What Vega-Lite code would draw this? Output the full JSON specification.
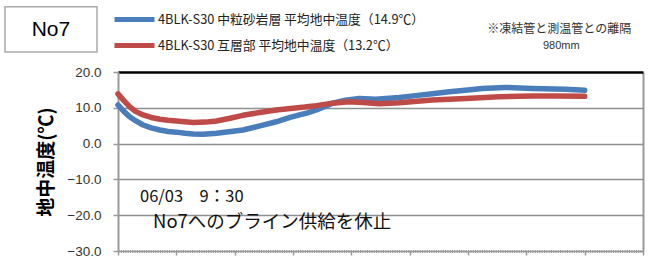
{
  "$schema": "https://vega.github.io/schema/vega-lite/v6.json",
  "autosize": "none",
  "width": 525,
  "height": 179,
  "padding": {"left": 118, "top": 72, "right": 5, "bottom": 9},
  "background": "white",
  "resolve": {"axis": {"x": "independent", "y": "independent"}},
  "config": {
    "view": {"stroke": null},
    "font": "Liberation Sans"
  },
  "layer": [
    {
      "data": {
        "values": [
          {"t": 0.0, "v": 10.8, "s": "4BLK-S30 中粒砂岩層 平均地中温度（14.9℃）"},
          {"t": 0.1, "v": 9.0, "s": "4BLK-S30 中粒砂岩層 平均地中温度（14.9℃）"},
          {"t": 0.2, "v": 7.5, "s": "4BLK-S30 中粒砂岩層 平均地中温度（14.9℃）"},
          {"t": 0.3, "v": 6.4, "s": "4BLK-S30 中粒砂岩層 平均地中温度（14.9℃）"},
          {"t": 0.43, "v": 5.2, "s": "4BLK-S30 中粒砂岩層 平均地中温度（14.9℃）"},
          {"t": 0.57, "v": 4.4, "s": "4BLK-S30 中粒砂岩層 平均地中温度（14.9℃）"},
          {"t": 0.72, "v": 3.8, "s": "4BLK-S30 中粒砂岩層 平均地中温度（14.9℃）"},
          {"t": 0.86, "v": 3.4, "s": "4BLK-S30 中粒砂岩層 平均地中温度（14.9℃）"},
          {"t": 1.0, "v": 3.2, "s": "4BLK-S30 中粒砂岩層 平均地中温度（14.9℃）"},
          {"t": 1.15, "v": 2.9, "s": "4BLK-S30 中粒砂岩層 平均地中温度（14.9℃）"},
          {"t": 1.29, "v": 2.7, "s": "4BLK-S30 中粒砂岩層 平均地中温度（14.9℃）"},
          {"t": 1.46, "v": 2.6, "s": "4BLK-S30 中粒砂岩層 平均地中温度（14.9℃）"},
          {"t": 1.69, "v": 2.9, "s": "4BLK-S30 中粒砂岩層 平均地中温度（14.9℃）"},
          {"t": 1.9, "v": 3.3, "s": "4BLK-S30 中粒砂岩層 平均地中温度（14.9℃）"},
          {"t": 2.14, "v": 3.8, "s": "4BLK-S30 中粒砂岩層 平均地中温度（14.9℃）"},
          {"t": 2.4, "v": 4.8, "s": "4BLK-S30 中粒砂岩層 平均地中温度（14.9℃）"},
          {"t": 2.71, "v": 6.1, "s": "4BLK-S30 中粒砂岩層 平均地中温度（14.9℃）"},
          {"t": 2.95, "v": 7.3, "s": "4BLK-S30 中粒砂岩層 平均地中温度（14.9℃）"},
          {"t": 3.11, "v": 8.0, "s": "4BLK-S30 中粒砂岩層 平均地中温度（14.9℃）"},
          {"t": 3.25, "v": 8.6, "s": "4BLK-S30 中粒砂岩層 平均地中温度（14.9℃）"},
          {"t": 3.4, "v": 9.4, "s": "4BLK-S30 中粒砂岩層 平均地中温度（14.9℃）"},
          {"t": 3.55, "v": 10.4, "s": "4BLK-S30 中粒砂岩層 平均地中温度（14.9℃）"},
          {"t": 3.68, "v": 11.3, "s": "4BLK-S30 中粒砂岩層 平均地中温度（14.9℃）"},
          {"t": 3.9, "v": 12.1, "s": "4BLK-S30 中粒砂岩層 平均地中温度（14.9℃）"},
          {"t": 4.14, "v": 12.6, "s": "4BLK-S30 中粒砂岩層 平均地中温度（14.9℃）"},
          {"t": 4.42, "v": 12.4, "s": "4BLK-S30 中粒砂岩層 平均地中温度（14.9℃）"},
          {"t": 4.82, "v": 12.9, "s": "4BLK-S30 中粒砂岩層 平均地中温度（14.9℃）"},
          {"t": 5.1, "v": 13.4, "s": "4BLK-S30 中粒砂岩層 平均地中温度（14.9℃）"},
          {"t": 5.39, "v": 13.9, "s": "4BLK-S30 中粒砂岩層 平均地中温度（14.9℃）"},
          {"t": 5.68, "v": 14.5, "s": "4BLK-S30 中粒砂岩層 平均地中温度（14.9℃）"},
          {"t": 6.0, "v": 15.0, "s": "4BLK-S30 中粒砂岩層 平均地中温度（14.9℃）"},
          {"t": 6.24, "v": 15.4, "s": "4BLK-S30 中粒砂岩層 平均地中温度（14.9℃）"},
          {"t": 6.64, "v": 15.7, "s": "4BLK-S30 中粒砂岩層 平均地中温度（14.9℃）"},
          {"t": 7.1, "v": 15.4, "s": "4BLK-S30 中粒砂岩層 平均地中温度（14.9℃）"},
          {"t": 7.67, "v": 15.2, "s": "4BLK-S30 中粒砂岩層 平均地中温度（14.9℃）"},
          {"t": 8.0, "v": 14.9, "s": "4BLK-S30 中粒砂岩層 平均地中温度（14.9℃）"},
          {"t": 0.0, "v": 13.9, "s": "4BLK-S30 互層部 平均地中温度（13.2℃）"},
          {"t": 0.1, "v": 12.0, "s": "4BLK-S30 互層部 平均地中温度（13.2℃）"},
          {"t": 0.2, "v": 10.3, "s": "4BLK-S30 互層部 平均地中温度（13.2℃）"},
          {"t": 0.3, "v": 9.0, "s": "4BLK-S30 互層部 平均地中温度（13.2℃）"},
          {"t": 0.43, "v": 8.0, "s": "4BLK-S30 互層部 平均地中温度（13.2℃）"},
          {"t": 0.57, "v": 7.3, "s": "4BLK-S30 互層部 平均地中温度（13.2℃）"},
          {"t": 0.72, "v": 6.8, "s": "4BLK-S30 互層部 平均地中温度（13.2℃）"},
          {"t": 0.86, "v": 6.5, "s": "4BLK-S30 互層部 平均地中温度（13.2℃）"},
          {"t": 1.0, "v": 6.3, "s": "4BLK-S30 互層部 平均地中温度（13.2℃）"},
          {"t": 1.29, "v": 5.9, "s": "4BLK-S30 互層部 平均地中温度（13.2℃）"},
          {"t": 1.5, "v": 6.0, "s": "4BLK-S30 互層部 平均地中温度（13.2℃）"},
          {"t": 1.69, "v": 6.3, "s": "4BLK-S30 互層部 平均地中温度（13.2℃）"},
          {"t": 1.9, "v": 7.0, "s": "4BLK-S30 互層部 平均地中温度（13.2℃）"},
          {"t": 2.14, "v": 7.9, "s": "4BLK-S30 互層部 平均地中温度（13.2℃）"},
          {"t": 2.4, "v": 8.6, "s": "4BLK-S30 互層部 平均地中温度（13.2℃）"},
          {"t": 2.71, "v": 9.4, "s": "4BLK-S30 互層部 平均地中温度（13.2℃）"},
          {"t": 3.0, "v": 9.9, "s": "4BLK-S30 互層部 平均地中温度（13.2℃）"},
          {"t": 3.2, "v": 10.2, "s": "4BLK-S30 互層部 平均地中温度（13.2℃）"},
          {"t": 3.4, "v": 10.6, "s": "4BLK-S30 互層部 平均地中温度（13.2℃）"},
          {"t": 3.68, "v": 11.3, "s": "4BLK-S30 互層部 平均地中温度（13.2℃）"},
          {"t": 3.96, "v": 11.7, "s": "4BLK-S30 互層部 平均地中温度（13.2℃）"},
          {"t": 4.2, "v": 11.5, "s": "4BLK-S30 互層部 平均地中温度（13.2℃）"},
          {"t": 4.48, "v": 11.1, "s": "4BLK-S30 互層部 平均地中温度（13.2℃）"},
          {"t": 4.82, "v": 11.4, "s": "4BLK-S30 互層部 平均地中温度（13.2℃）"},
          {"t": 5.39, "v": 12.2, "s": "4BLK-S30 互層部 平均地中温度（13.2℃）"},
          {"t": 5.96, "v": 12.6, "s": "4BLK-S30 互層部 平均地中温度（13.2℃）"},
          {"t": 6.53, "v": 13.1, "s": "4BLK-S30 互層部 平均地中温度（13.2℃）"},
          {"t": 7.1, "v": 13.3, "s": "4BLK-S30 互層部 平均地中温度（13.2℃）"},
          {"t": 7.5, "v": 13.3, "s": "4BLK-S30 互層部 平均地中温度（13.2℃）"},
          {"t": 8.0, "v": 13.2, "s": "4BLK-S30 互層部 平均地中温度（13.2℃）"}
        ]
      },
      "mark": {"type": "line", "strokeWidth": 5.5, "strokeCap": "round", "strokeJoin": "round"},
      "encoding": {
        "x": {
          "field": "t", "type": "quantitative",
          "scale": {"domain": [0, 9], "nice": false, "zero": false},
          "axis": {
            "values": [0, 1, 2, 3, 4, 5, 6, 7, 8, 9],
            "labels": false, "title": null,
            "ticks": true, "tickSize": 4, "tickColor": "#999", "tickWidth": 1.5,
            "domain": true, "domainColor": "#999", "domainWidth": 1.5,
            "grid": true, "gridColor": "#999", "gridWidth": 2,
            "gridOpacity": {"condition": {"test": "datum.value === 9", "value": 1}, "value": 0}
          }
        },
        "y": {
          "field": "v", "type": "quantitative",
          "scale": {"domain": [-30, 20], "nice": false},
          "axis": {
            "values": [-30, -20, -10, 0, 10, 20],
            "format": ".1f",
            "labelOverlap": false,
            "title": "地中温度(℃)",
            "titleFont": "Noto Sans CJK JP", "titleFontSize": 19, "titleFontWeight": "bold",
            "titleColor": "#000", "titlePadding": 10,
            "labelFont": "Liberation Sans", "labelFontSize": 13.5, "labelColor": "#333",
            "labelPadding": 12,
            "ticks": true, "tickSize": 5, "tickColor": "#999", "tickWidth": 1.5,
            "domain": true, "domainColor": "#999", "domainWidth": 2,
            "grid": true,
            "gridColor": {"condition": {"test": "datum.value === 20", "value": "#000"}, "value": "#8f8f8f"},
            "gridWidth": {"condition": [{"test": "datum.value === -30", "value": 3}, {"test": "datum.value === 20", "value": 2.5}], "value": 1.5},
            "gridDash": {"condition": {"test": "datum.value === -30", "value": [1, 1.3]}, "value": []}
          }
        },
        "color": {
          "field": "s", "type": "nominal",
          "scale": {
            "domain": ["4BLK-S30 中粒砂岩層 平均地中温度（14.9℃）", "4BLK-S30 互層部 平均地中温度（13.2℃）"],
            "range": ["#4a7ebb", "#be4b48"]
          },
          "legend": {
            "orient": "none", "legendX": 9, "legendY": -60,
            "title": null, "direction": "vertical",
            "symbolType": "M-4,0H4", "symbolSize": 100, "symbolStrokeWidth": 5,
            "labelOffset": 16, "labelFont": "Noto Sans CJK JP", "labelFontSize": 12.8,
            "labelColor": "#222", "labelLimit": 500, "rowPadding": 5, "padding": 0
          }
        }
      }
    },
    {
      "data": {"values": [{}]},
      "mark": {"type": "rect", "fill": "white", "stroke": "#aaa", "strokeWidth": 1.5},
      "encoding": {
        "x": {"datum": -1.937, "type": "quantitative", "axis": null},
        "x2": {"datum": -0.36},
        "y": {"datum": 38.2, "type": "quantitative", "axis": null},
        "y2": {"datum": 25.6}
      }
    },
    {
      "data": {"values": [{}]},
      "mark": {"type": "text", "text": "No7", "font": "Liberation Sans", "fontSize": 21, "align": "center", "baseline": "middle", "color": "#000"},
      "encoding": {
        "x": {"datum": -1.15, "type": "quantitative", "axis": null},
        "y": {"datum": 31.7, "type": "quantitative", "axis": null}
      }
    },
    {
      "data": {"values": [{}]},
      "mark": {"type": "text", "text": "※凍結管と測温管との離隔", "font": "Noto Sans CJK JP", "fontSize": 12, "align": "left", "baseline": "middle", "color": "#333"},
      "encoding": {
        "x": {"datum": 6.33, "type": "quantitative", "axis": null},
        "y": {"datum": 32.0, "type": "quantitative", "axis": null}
      }
    },
    {
      "data": {"values": [{}]},
      "mark": {"type": "text", "text": "980mm", "font": "Liberation Sans", "fontSize": 11, "align": "center", "baseline": "middle", "color": "#333"},
      "encoding": {
        "x": {"datum": 7.6, "type": "quantitative", "axis": null},
        "y": {"datum": 27.2, "type": "quantitative", "axis": null}
      }
    },
    {
      "data": {"values": [{}]},
      "mark": {"type": "text", "text": "06/03　9：30", "font": "Noto Sans CJK JP", "fontSize": 16.5, "align": "left", "baseline": "alphabetic", "color": "#111"},
      "encoding": {
        "x": {"datum": 0.377, "type": "quantitative", "axis": null},
        "y": {"datum": -16.2, "type": "quantitative", "axis": null}
      }
    },
    {
      "data": {"values": [{}]},
      "mark": {"type": "text", "text": "No7へのブライン供給を休止", "font": "Noto Sans CJK JP", "fontSize": 18.5, "align": "left", "baseline": "alphabetic", "color": "#111"},
      "encoding": {
        "x": {"datum": 0.6, "type": "quantitative", "axis": null},
        "y": {"datum": -23.5, "type": "quantitative", "axis": null}
      }
    }
  ]
}
